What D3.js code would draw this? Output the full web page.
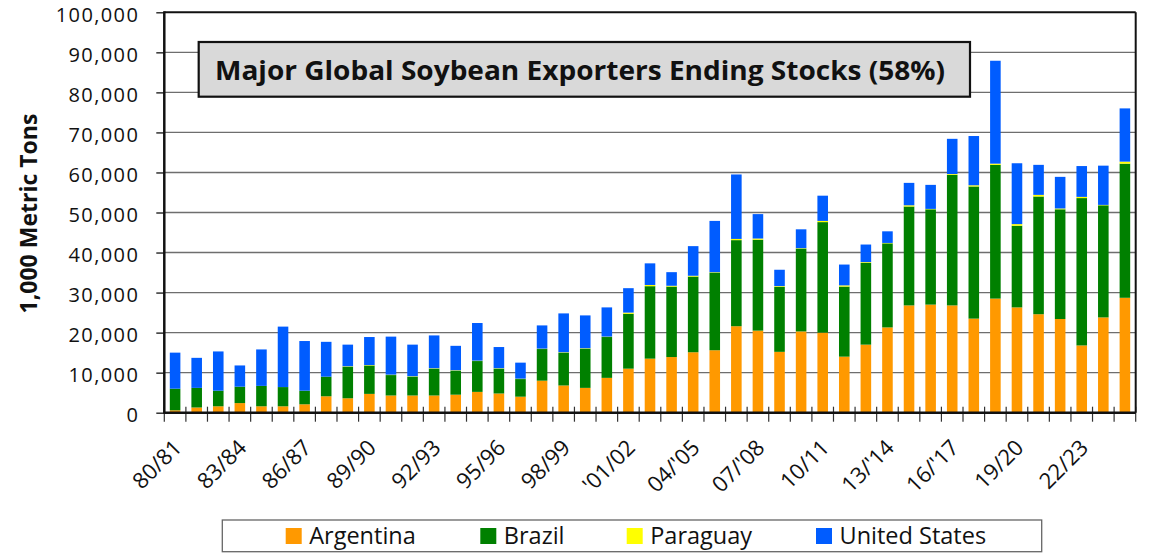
<!DOCTYPE html>
<html>
<head>
<meta charset="utf-8">
<script src="https://cdn.jsdelivr.net/npm/d3@7"></script>
<style>
  html, body { margin: 0; padding: 0; background: #fff; }
  svg { display: block; font-family: "Open Sans", "Noto Sans", sans-serif; }
</style>
</head>
<body>
<svg id="chart" width="1151" height="555"></svg>
<script>
// Marketing years, 1980/81 through 2024/25
const seasons = ["80/81","81/82","82/83","83/84","84/85","85/86","86/87","87/88","88/89","89/90",
  "90/91","91/92","92/93","93/94","94/95","95/96","96/97","97/98","98/99","99/00",
  "00/01","'01/02","02/03","03/04","04/'05","05/06","06/07","07/'08","08/09","09/10",
  "10/11","11/12","12/13","13/'14","14/15","15/16","16/'17","17/18","18/19","19/20",
  "20/21","21/22","22/23","23/24","24/25"];

// Ending stocks, 1,000 metric tons
const argentina = [600,1300,1600,2400,1600,1600,2100,4100,3600,4700,
  4300,4300,4300,4500,5200,4800,4000,8000,6800,6200,
  8700,11000,13500,13900,15100,15600,21600,20500,15200,20300,
  20000,14000,17000,21300,26800,27000,26800,23500,28500,26300,
  24600,23400,16800,23800,28700];
const brazil = [5400,4900,3900,4100,5100,4800,3400,4900,7900,7100,
  5100,4700,6700,6000,7700,6200,4400,7900,8200,9800,
  10200,13700,18100,17600,18900,19400,21500,22700,16200,20700,
  27600,17500,20400,21000,24700,23800,32600,33000,33400,20400,
  29400,27400,36800,28000,33500];
const paraguay = [0,0,0,0,0,0,0,0,100,100,
  100,100,100,100,100,100,100,100,100,100,
  100,300,300,200,200,100,300,300,200,100,
  300,300,200,100,300,100,200,300,300,400,
  400,200,300,100,500];
const unitedStates = [9000,7500,9800,5300,9100,15100,12400,8700,5400,7000,
  9500,7900,8200,6100,9400,5300,4000,5800,9700,8200,
  7300,6100,5400,3400,7400,12800,16100,6100,4100,4700,
  6300,5200,4400,2900,5600,6000,8800,12300,25700,15200,
  7500,7900,7700,9800,13300];

const seriesNames = ["Argentina", "Brazil", "Paraguay", "United States"];
const seriesColors = ["#ff9900", "#008000", "#ffff00", "#005cff"];
const yTicks = [0,10000,20000,30000,40000,50000,60000,70000,80000,90000,100000];

const titleText = "Major Global Soybean Exporters Ending Stocks (58%)";
const yTitle = "1,000 Metric Tons";

// Table for d3.stack
const table = seasons.map((s, i) => ({
  season: s,
  "Argentina": argentina[i],
  "Brazil": brazil[i],
  "Paraguay": paraguay[i],
  "United States": unitedStates[i]
}));

const svg = d3.select("#chart");
const plot = { left: 164.3, right: 1135.7, top: 12.3, bottom: 412.7 };

const x = d3.scaleBand()
  .domain(seasons)
  .range([plot.left, plot.right])
  .paddingInner(0.51)
  .paddingOuter(0.255);

const y = d3.scaleLinear()
  .domain([0, 100000])
  .range([plot.bottom, plot.top]);

const color = d3.scaleOrdinal().domain(seriesNames).range(seriesColors);

// Horizontal gridlines
svg.append("g")
  .selectAll("line")
  .data(yTicks.filter(v => v > 0 && v < 100000))
  .join("line")
  .attr("x1", plot.left)
  .attr("x2", plot.right)
  .attr("y1", d => y(d))
  .attr("y2", d => y(d))
  .attr("stroke", "#6e6e6e")
  .attr("stroke-width", 1.4);

// Stacked bars
const stacked = d3.stack().keys(seriesNames)(table);
svg.append("g")
  .selectAll("g")
  .data(stacked)
  .join("g")
  .attr("fill", d => color(d.key))
  .selectAll("rect")
  .data(d => d)
  .join("rect")
  .attr("x", d => x(d.data.season))
  .attr("width", x.bandwidth())
  .attr("y", d => y(d[1]))
  .attr("height", d => Math.max(0, y(d[0]) - y(d[1])));

// Y axis: ticks and labels
const yAxis = svg.append("g")
  .attr("transform", `translate(${plot.left},0)`)
  .call(d3.axisLeft(y).tickValues(yTicks).tickFormat(d3.format(",")).tickSize(8).tickPadding(17));
yAxis.select(".domain").remove();
yAxis.selectAll(".tick line").attr("stroke", "#222").attr("stroke-width", 1.4);
yAxis.selectAll(".tick text")
  .attr("font-size", 20)
  .attr("letter-spacing", 1.4)
  .attr("fill", "#111")
  .attr("dy", 9)
  .style("font-family", "'Open Sans', sans-serif");

// X-axis tick marks at category boundaries
const half = x.step() * x.paddingInner() / 2;
const boundaries = seasons.map(s => x(s) - half).concat([x(seasons[seasons.length - 1]) + x.bandwidth() + half]);
svg.append("g")
  .selectAll("line")
  .data(boundaries)
  .join("line")
  .attr("x1", d => d)
  .attr("x2", d => d)
  .attr("y1", plot.bottom - 6)
  .attr("y2", plot.bottom + 9)
  .attr("stroke", "#333")
  .attr("stroke-width", 1.2);

// Plot frame
svg.append("line").attr("x1", plot.left).attr("x2", plot.right).attr("y1", plot.top).attr("y2", plot.top)
  .attr("stroke", "#111").attr("stroke-width", 2);
svg.append("line").attr("x1", plot.right).attr("x2", plot.right).attr("y1", plot.top).attr("y2", plot.bottom)
  .attr("stroke", "#111").attr("stroke-width", 2);
svg.append("line").attr("x1", plot.left).attr("x2", plot.left).attr("y1", plot.top - 1).attr("y2", plot.bottom + 1)
  .attr("stroke", "#111").attr("stroke-width", 2.5);
svg.append("line").attr("x1", plot.left).attr("x2", plot.right).attr("y1", plot.bottom).attr("y2", plot.bottom)
  .attr("stroke", "#111").attr("stroke-width", 2.5);

// X labels, every third season, rotated
svg.append("g")
  .selectAll("text")
  .data(seasons.filter((s, i) => i % 3 === 0))
  .join("text")
  .attr("transform", d => `translate(${x(d) + x.bandwidth() / 2 + 8},449) rotate(-45)`)
  .attr("text-anchor", "end")
  .attr("font-size", 22)
  .attr("fill", "#111")
  .text(d => d);

// Y axis title
svg.append("text")
  .attr("transform", "translate(37,213.5) rotate(-90)")
  .attr("text-anchor", "middle")
  .attr("font-size", 23)
  .attr("font-weight", "bold")
  .attr("fill", "#111")
  .text(yTitle);

// Title box
svg.append("rect")
  .attr("x", 198.7).attr("y", 42)
  .attr("width", 970 - 198.7).attr("height", 96.7 - 42)
  .attr("fill", "#d9d9d9")
  .attr("stroke", "#111")
  .attr("stroke-width", 2.2);
svg.append("text")
  .attr("x", 215).attr("y", 80)
  .attr("font-size", 27)
  .attr("font-weight", "bold")
  .attr("fill", "#111")
  .attr("textLength", 730)
  .attr("lengthAdjust", "spacingAndGlyphs")
  .text(titleText);

// Legend
const legend = svg.append("g");
legend.append("rect")
  .attr("x", 222.3).attr("y", 520)
  .attr("width", 1041.7 - 222.3).attr("height", 31.7)
  .attr("fill", "#fff")
  .attr("stroke", "#666")
  .attr("stroke-width", 1.3);
const legendX = [285.7, 480.3, 626.7, 816];
const legendItems = legend.selectAll("g.item")
  .data(seriesNames)
  .join("g")
  .attr("class", "item")
  .attr("transform", (d, i) => `translate(${legendX[i]},0)`);
legendItems.append("rect")
  .attr("x", 0).attr("y", 528)
  .attr("width", 16).attr("height", 16)
  .attr("fill", d => color(d));
legendItems.append("text")
  .attr("x", 23.5).attr("y", 544)
  .attr("font-size", 23.5)
  .attr("fill", "#111")
  .text(d => d);
</script>
</body>
</html>
